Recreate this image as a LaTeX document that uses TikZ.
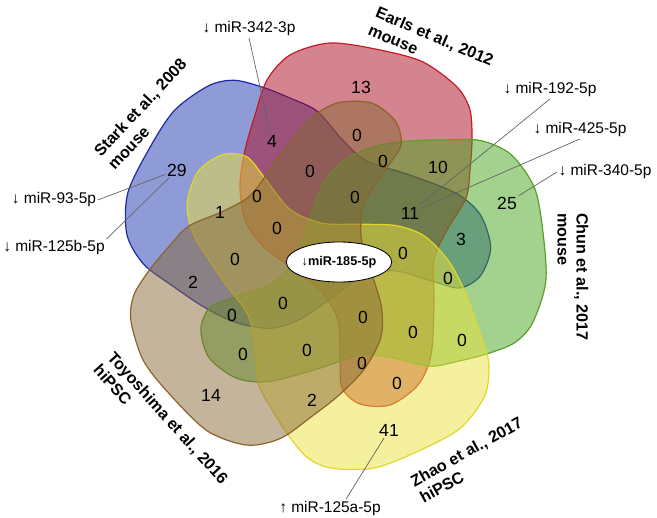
\documentclass[tikz,border=0pt]{standalone}
\usepackage{fontspec}
\setmainfont{Liberation Sans}
\usetikzlibrary{shapes.geometric}
\definecolor{StarkClr}{RGB}{30,55,175}
\definecolor{EarlsClr}{RGB}{170,10,30}
\definecolor{ChunClr}{RGB}{70,165,30}
\definecolor{ToyoClr}{RGB}{135,105,55}
\definecolor{ZhaoClr}{RGB}{235,225,60}
\definecolor{StarkLine}{RGB}{30,40,170}
\definecolor{EarlsLine}{RGB}{200,25,35}
\definecolor{ChunLine}{RGB}{90,160,40}
\definecolor{ToyoLine}{RGB}{140,100,40}
\definecolor{ZhaoLine}{RGB}{225,215,40}
\definecolor{LeadClr}{RGB}{100,100,100}

% one set, lobe pointing up, centre of the diagram at the origin
\newcommand{\setblob}{plot[smooth cycle] coordinates {(-2,-214) (48,-207) (91,-195) (125,-170) (138,-147) (140,-117) (138,-87) (134,-59) (115,-27) (102,3) (102,48) (99,98) (86,128) (58,148) (28,147) (10,131) (8,103) (6,63) (-12,33) (-42,10) (-70,-12) (-87,-37) (-92,-72) (-87,-107) (-77,-142) (-65,-177) (-42,-202)}}

\begin{document}
\begin{tikzpicture}[x=0.025cm,y=-0.025cm,
  blob/.style={line width=0.85pt,fill opacity=0.5},
  num/.style={font=\fontsize{12.5}{14}\selectfont,inner sep=1pt},
  mirlbl/.style={font=\fontsize{11}{13}\selectfont,inner sep=1pt},
  grplbl/.style={font=\bfseries\fontsize{11.5}{13.5}\selectfont,align=left,inner sep=0pt},
  lead/.style={draw=LeadClr,line width=0.5pt}]
\useasboundingbox (0,0) rectangle (657,518);

\begin{scope}[shift={(332,257)},rotate=72]
\draw[blob,draw=StarkLine,fill=StarkClr] \setblob;
\end{scope}
\begin{scope}[shift={(332,257)}]
\draw[blob,draw=EarlsLine,fill=EarlsClr] \setblob;
\end{scope}
\begin{scope}[shift={(332,257)},rotate=-72]
\draw[blob,draw=ChunLine,fill=ChunClr] \setblob;
\end{scope}
\begin{scope}[shift={(332,257)},rotate=-144]
\draw[blob,draw=ZhaoLine,fill=ZhaoClr] \setblob;
\end{scope}
\begin{scope}[shift={(332,257)},rotate=144]
\draw[blob,draw=ToyoLine,fill=ToyoClr] \setblob;
\end{scope}

% set names
\node[grplbl,rotate=47] (stark) at (147,114) {Stark et al., 2008\\mouse};
\node[grplbl,rotate=-23] (earls) at (431,45) {Earls et al., 2012\\mouse};
\node[grplbl,rotate=-90] (chun) at (573,277) {Chun et al., 2017\\mouse};
\node[grplbl,rotate=29] (zhao) at (471,460) {Zhao et al., 2017\\hiPSC};
\node[grplbl,rotate=-48] (toyo) at (161,424) {Toyoshima et al., 2016\\hiPSC};

% counts
\node[num] (n13) at (361,87) {13};
\node[num] (n4) at (272,141) {4};
\node[num] (n29) at (177,170) {29};
\node[num] (z1) at (310,171) {0};
\node[num] (z2) at (357,135) {0};
\node[num] (z3) at (383,161) {0};
\node[num] (n10) at (438,167) {10};
\node[num] (z4) at (355,197) {0};
\node[num] (n11) at (410,213) {11};
\node[num] (n3) at (461,239) {3};
\node[num] (z5) at (403,253) {0};
\node[num] (n25) at (507,203) {25};
\node[num] (z6) at (257,196) {0};
\node[num] (n1) at (220,212) {1};
\node[num] (z7) at (277,228) {0};
\node[num] (z8) at (235,259) {0};
\node[num] (n2a) at (193,282) {2};
\node[num] (z9) at (448,278) {0};
\node[num] (z10) at (283,303) {0};
\node[num] (z11) at (232,315) {0};
\node[num] (z12) at (363,317) {0};
\node[num] (z13) at (413,332) {0};
\node[num] (z14) at (462,340) {0};
\node[num] (z15) at (243,354) {0};
\node[num] (z16) at (307,350) {0};
\node[num] (z17) at (362,363) {0};
\node[num] (z18) at (397,383) {0};
\node[num] (n14) at (211,395) {14};
\node[num] (n2b) at (312,400) {2};
\node[num] (n41) at (389,430) {41};

\node[ellipse,draw,fill=white,line width=0.6pt,minimum width=2.2cm,minimum height=1cm,inner sep=0pt,
  font=\bfseries\fontsize{9}{10}\selectfont] (core) at (339,262) {↓miR-185-5p};

% miRNA call-outs
\node[mirlbl] (l342) at (249,29) {↓ miR-342-3p};
\node[mirlbl] (l93) at (54,200) {↓ miR-93-5p};
\node[mirlbl] (l125b) at (54,248) {↓ miR-125b-5p};
\node[mirlbl] (l192) at (550,90) {↓ miR-192-5p};
\node[mirlbl] (l425) at (580,130) {↓ miR-425-5p};
\node[mirlbl] (l340) at (605,172) {↓ miR-340-5p};
\node[mirlbl] (l125a) at (330,508) {↑ miR-125a-5p};

\draw[lead] (l342.south) -- (n4);
\draw[lead] (l93.east) -- (n29);
\draw[lead] (l125b.north east) -- (n29);
\draw[lead] (l192.south) -- (n11);
\draw[lead] (l425.south) -- (n11);
\draw[lead] (l340.west) -- (n25);
\draw[lead] ([xshift=0.4cm]l125a.north) -- (n41);

\end{tikzpicture}
\end{document}
